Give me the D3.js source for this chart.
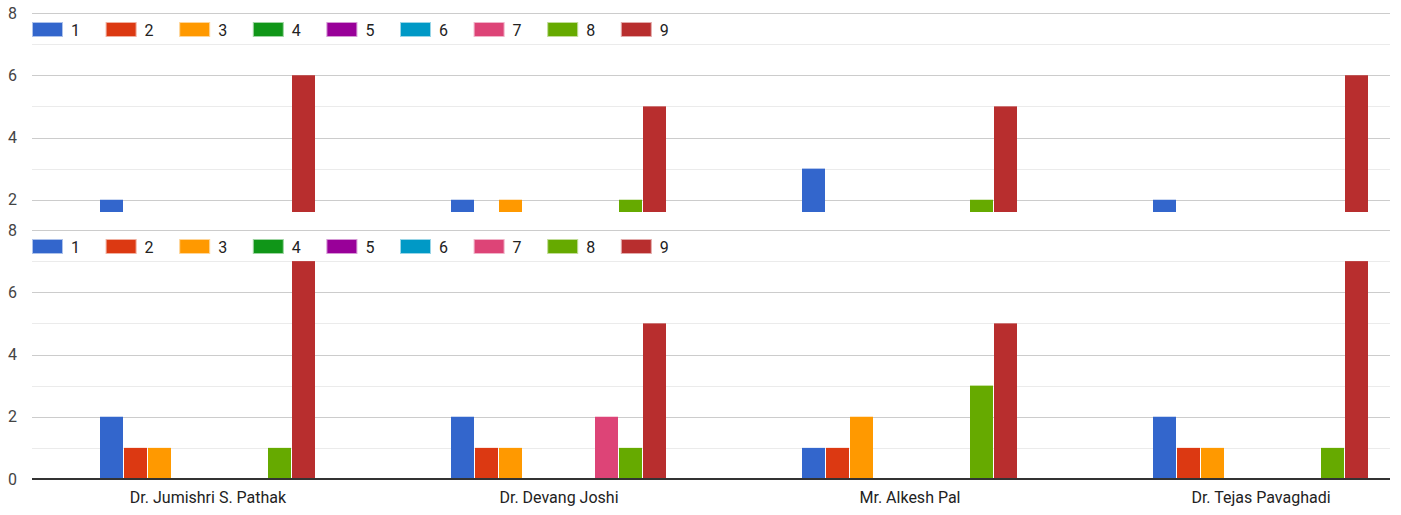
<!DOCTYPE html>
<html><head><meta charset="utf-8">
<script src="https://cdn.jsdelivr.net/npm/d3@7"></script>
<style>body{margin:0;background:#fff}svg{display:block;font-family:Roboto,Arial,sans-serif}</style>
</head><body><svg id="c" width="1401" height="515"></svg>
<script>
const categories = ["Dr. Jumishri S. Pathak", "Dr. Devang Joshi", "Mr. Alkesh Pal", "Dr. Tejas Pavaghadi"];
const seriesNames = ["1","2","3","4","5","6","7","8","9"];
const colors = ["#3366cc","#dc3912","#ff9900","#109618","#990099","#0099c6","#dd4477","#66aa00","#b82e2e"];
// top (partially hidden) panel: values per series, per category
const topValues = [
  [2,2,3,2],
  [0,0,0,0],
  [0,2,0,0],
  [0,0,0,0],
  [0,0,0,0],
  [0,0,0,0],
  [0,0,0,0],
  [0,2,2,0],
  [6,5,5,6]
];
// bottom panel
const bottomValues = [
  [2,2,1,2],
  [1,1,1,1],
  [1,1,2,1],
  [0,0,0,0],
  [0,0,0,0],
  [0,0,0,0],
  [0,2,0,0],
  [1,1,3,1],
  [7,5,5,7]
];
const yTicks = [0,2,4,6,8];
const yMinor = [1,3,5,7];

const svg = d3.select("#c");
const plotL = 32, plotR = 1390;

const x0 = d3.scalePoint().domain(categories).range([208, 1261]);
const x1 = d3.scaleBand().domain(seriesNames).range([-108, 108]);

function panel(values, offset, clipH, showXLabels) {
  const g = svg.append("g").attr("transform", `translate(0,${offset})`);
  const clipId = "clip" + offset;
  if (clipH) {
    svg.append("defs").append("clipPath").attr("id", clipId)
      .append("rect").attr("x", 0).attr("y", -offset).attr("width", 1401).attr("height", clipH);
    g.attr("clip-path", `url(#${clipId})`);
  }
  const y = d3.scaleLinear().domain([0, 8]).range([262, 13]);
  g.selectAll(".minor").data(yMinor).join("line")
    .attr("x1", plotL).attr("x2", plotR).attr("y1", d => Math.round(y(d)) + 0.5).attr("y2", d => Math.round(y(d)) + 0.5)
    .attr("stroke", "#ebebeb").attr("stroke-width", 1.2);
  g.selectAll(".major").data(yTicks.filter(d => d > 0)).join("line")
    .attr("x1", plotL).attr("x2", plotR).attr("y1", d => Math.round(y(d)) + 0.5).attr("y2", d => Math.round(y(d)) + 0.5)
    .attr("stroke", "#cccccc").attr("stroke-width", 1.2);
  g.selectAll(".ylab").data(yTicks).join("text")
    .attr("x", 17).attr("y", d => y(d)).attr("dy", "0.35em").attr("text-anchor", "end")
    .attr("font-size", 16).attr("fill", "#444").text(d => d);

  // bars
  seriesNames.forEach((s, si) => {
    g.selectAll(".bar" + si).data(values[si].map((v, ci) => ({v, c: categories[ci]})).filter(d => d.v > 0))
      .join("rect")
      .attr("x", d => x0(d.c) + x1(s))
      .attr("width", x1.bandwidth() - 1)
      .attr("y", d => y(d.v))
      .attr("height", d => y(0) - y(d.v))
      .attr("fill", colors[si]);
  });

  // baseline
  g.append("line").attr("x1", plotL).attr("x2", plotR).attr("y1", y(0)).attr("y2", y(0))
    .attr("stroke", "#333").attr("stroke-width", 2);

  if (showXLabels) {
    g.selectAll(".xlab").data(categories).join("text")
      .attr("x", d => x0(d)).attr("y", y(0) + 24).attr("text-anchor", "middle")
      .attr("font-size", 16).attr("fill", "#222").text(d => d);
  }

  // legend
  const lg = g.append("g");
  const items = lg.selectAll("g").data(seriesNames).join("g")
    .attr("transform", (d, i) => `translate(${32 + i * 73.6},22)`);
  items.append("rect").attr("x", 0.5).attr("y", 0.5).attr("width", 30).attr("height", 14)
    .attr("fill", (d, i) => colors[i])
    .attr("stroke", (d, i) => d3.interpolateRgb(colors[i], "#fff")(0.6)).attr("stroke-width", 1);
  items.append("text").attr("x", 39).attr("y", 8).attr("dy", "0.35em")
    .attr("font-size", 16).attr("fill", "#222").text(d => d);
}

panel(topValues, 0, 212, false);
svg.append("rect").attr("x", 0).attr("y", 212).attr("width", 1401).attr("height", 5).attr("fill", "#fff");
panel(bottomValues, 217, null, true);
</script></body></html>
